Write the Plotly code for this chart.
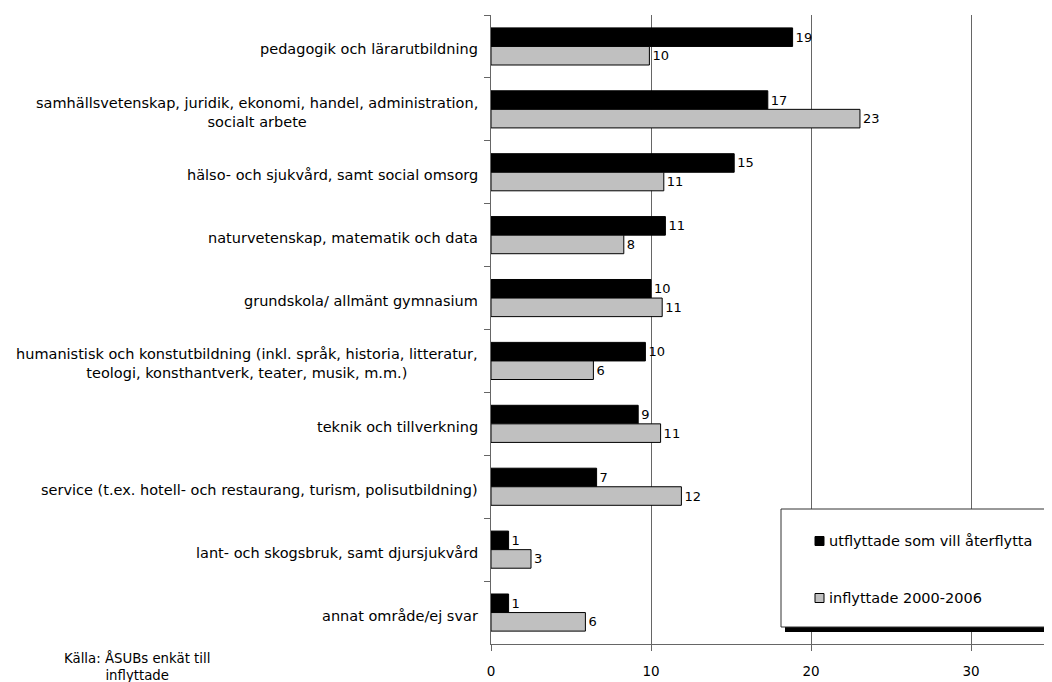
import plotly.graph_objects as go

categories = [
    "pedagogik och lärarutbildning",
    "samhällsvetenskap, juridik, ekonomi, handel, administration,<br>socialt arbete",
    "hälso- och sjukvård, samt social omsorg",
    "naturvetenskap, matematik och data",
    "grundskola/ allmänt gymnasium",
    "humanistisk och konstutbildning (inkl. språk, historia, litteratur,<br>teologi, konsthantverk, teater, musik, m.m.)",
    "teknik och tillverkning",
    "service (t.ex. hotell- och restaurang, turism, polisutbildning)",
    "lant- och skogsbruk, samt djursjukvård",
    "annat område/ej svar",
]
utflyttade = [18.85, 17.3, 15.2, 10.9, 10.0, 9.65, 9.2, 6.6, 1.1, 1.1]
inflyttade = [9.9, 23.06, 10.8, 8.3, 10.7, 6.4, 10.6, 11.9, 2.5, 5.9]
utflyttade_labels = ["19", "17", "15", "11", "10", "10", "9", "7", "1", "1"]
inflyttade_labels = ["10", "23", "11", "8", "11", "6", "11", "12", "3", "6"]
series_names = ["utflyttade som vill återflytta", "inflyttade 2000-2006"]
x_ticks = [0, 10, 20, 30]
source_text = "Källa: ÅSUBs enkät till<br>inflyttade"

FONT = "DejaVu Sans"
OFF = 8  # page body margin
W, H = 1052 - OFF, 682 - OFF
L, R, T, B = 491 - OFF, 0, 15 - OFF, 38
pw, ph = W - L - R, H - T - B


def px_x(p):
    # p: screen pixel x
    return (p - OFF - L) / pw


def px_y(p):
    # p: screen pixel y
    return (H - B - (p - OFF)) / ph


fig = go.Figure()
fig.add_trace(go.Bar(
    y=categories, x=utflyttade, orientation="h", name=series_names[0],
    marker=dict(color="#000000", line=dict(color="#000000", width=1)),
    text=utflyttade_labels, textposition="outside",
    textfont=dict(family=FONT, size=13, color="#000"), cliponaxis=False,
    showlegend=False,
))
fig.add_trace(go.Bar(
    y=categories, x=inflyttade, orientation="h", name=series_names[1],
    marker=dict(color="#C0C0C0", line=dict(color="#000000", width=1)),
    text=inflyttade_labels, textposition="outside",
    textfont=dict(family=FONT, size=13, color="#000"), cliponaxis=False,
    showlegend=False,
))

annotations = []
for c in categories:
    annotations.append(dict(
        x=0, xref="paper", y=c, yref="y", text=c, showarrow=False,
        xanchor="right", yanchor="middle", align="center", xshift=-11, yshift=-3,
        font=dict(family=FONT, size=14.5, color="#000"),
    ))
annotations.append(dict(
    x=px_x(137), xref="paper", y=px_y(666), yref="paper", text=source_text,
    showarrow=False, xanchor="center", yanchor="middle", align="center",
    font=dict(family=FONT, size=13.3, color="#000"),
))

# manual legend with shadow
lx0, ly0, ly1 = 781, 509, 627
shapes = [
    dict(type="rect", xref="paper", yref="paper",
         x0=px_x(lx0 + 4), x1=px_x(1070), y0=px_y(ly1 + 5), y1=px_y(ly0 + 4),
         fillcolor="#000000", line=dict(width=0), layer="above"),
    dict(type="rect", xref="paper", yref="paper",
         x0=px_x(lx0), x1=px_x(1065), y0=px_y(ly1), y1=px_y(ly0),
         fillcolor="#ffffff", line=dict(color="#333333", width=1), layer="above"),
]
for i, (col, yc) in enumerate([("#000000", 541), ("#C0C0C0", 598)]):
    shapes.append(dict(type="rect", xref="paper", yref="paper",
                       x0=px_x(815), x1=px_x(824), y0=px_y(yc + 4.5), y1=px_y(yc - 4.5),
                       fillcolor=col, line=dict(color="#000000", width=1), layer="above"))
    annotations.append(dict(
        x=px_x(827), xref="paper", y=px_y(yc), yref="paper", text=series_names[i],
        showarrow=False, xanchor="left", yanchor="middle",
        font=dict(family=FONT, size=14.5, color="#000"),
    ))

fig.update_layout(
    width=W, height=H,
    margin=dict(l=L, r=R, t=T, b=B, autoexpand=False),
    paper_bgcolor="white", plot_bgcolor="white",
    barmode="group", bargap=0.41, bargroupgap=0,
    showlegend=False,
    annotations=annotations, shapes=shapes,
    font=dict(family=FONT, color="#000"),
)
fig.update_xaxes(
    range=[0, pw / 16.0], tickvals=x_ticks, ticktext=[str(v) for v in x_ticks],
    showgrid=True, gridcolor="#666666", gridwidth=1,
    showline=True, linecolor="#666666", linewidth=1,
    ticks="outside", ticklen=6, tickcolor="#666666",
    ticklabelstandoff=9,
    tickfont=dict(family=FONT, size=13.5, color="#000"),
    zeroline=False, fixedrange=True,
)
fig.update_yaxes(
    autorange="reversed", showticklabels=False, tickson="boundaries",
    ticks="outside", ticklen=6, tickcolor="#666666",
    showline=True, linecolor="#666666", linewidth=1,
    showgrid=False, zeroline=False, fixedrange=True,
)

fig.write_html("out.html")
